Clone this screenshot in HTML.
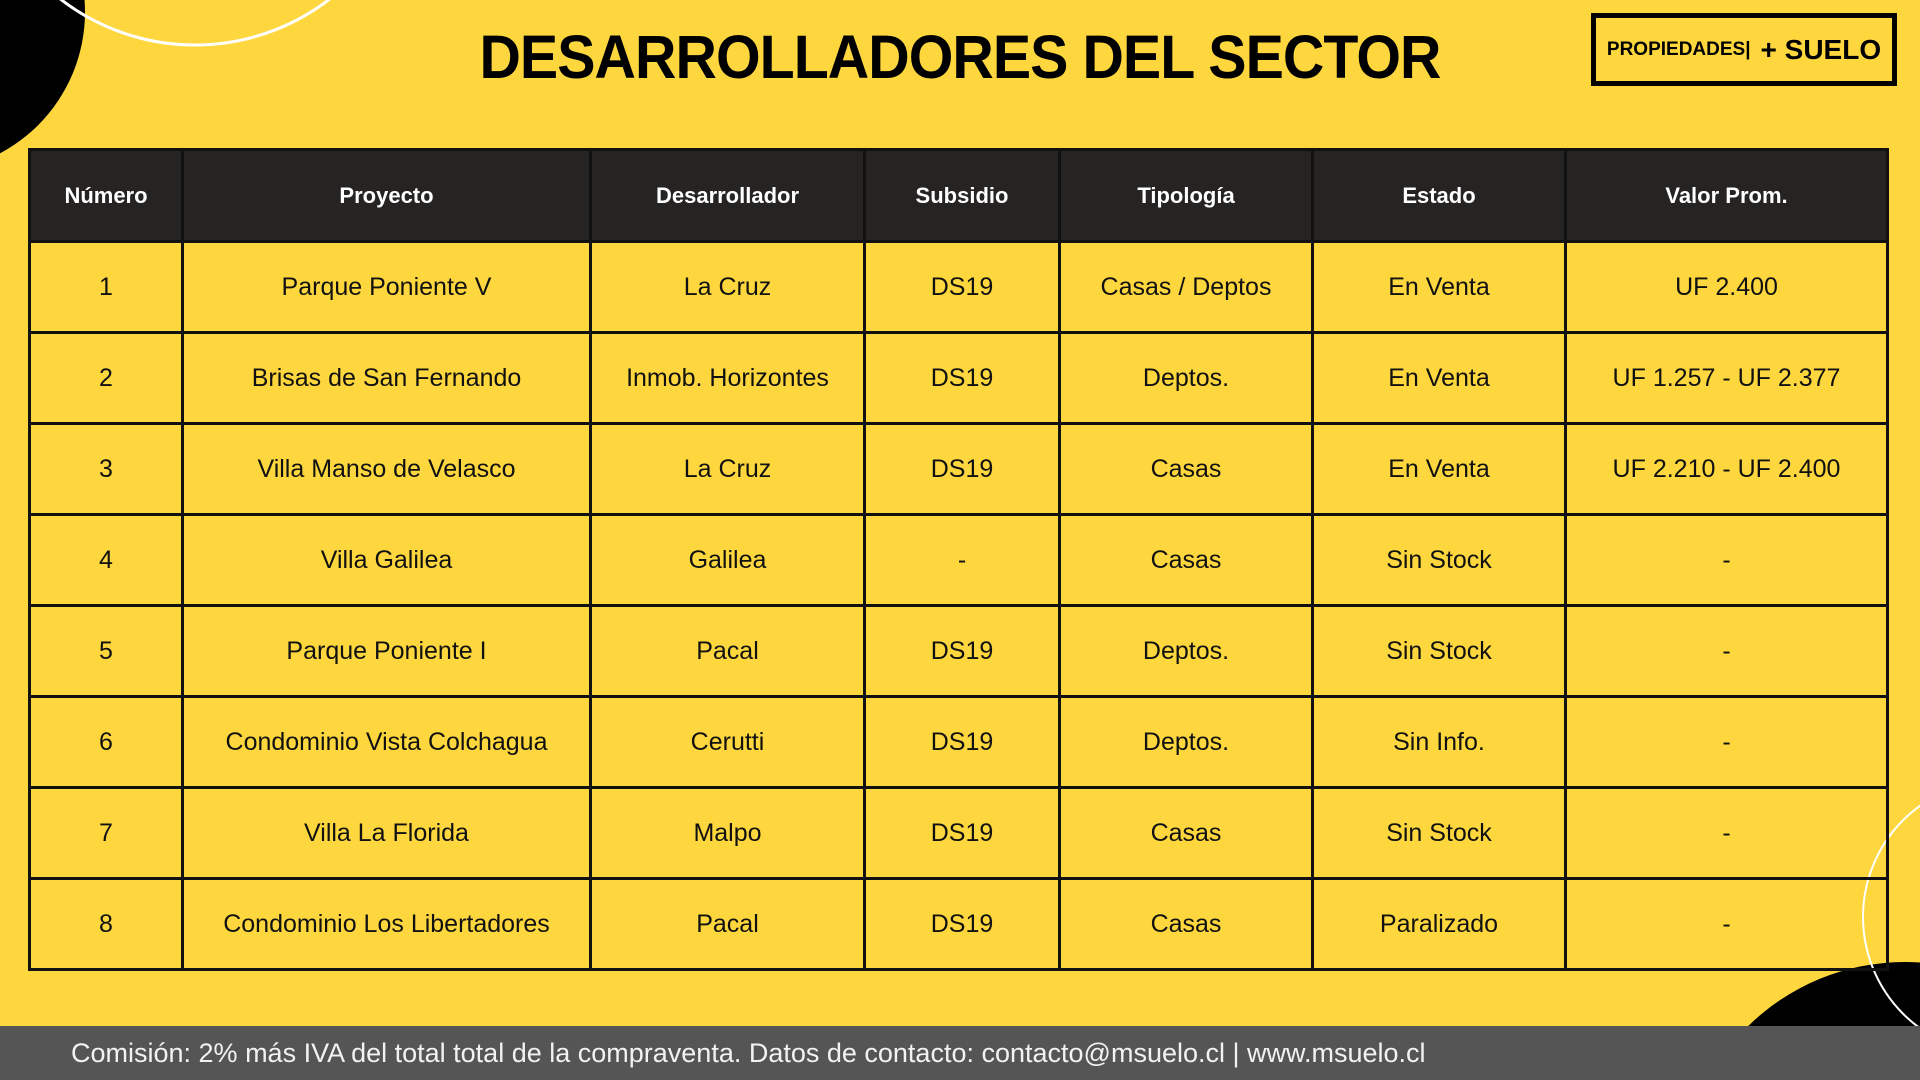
<!DOCTYPE html>
<html style="overflow:hidden"><head><meta charset="utf-8"><style>
*{margin:0;padding:0;box-sizing:border-box}
html,body{width:1920px;height:1080px;overflow:hidden}
#w{width:1920px;height:1080px;background:#fdd73d;position:relative;overflow:hidden;font-family:"Liberation Sans",sans-serif}
svg{position:absolute;left:0;top:0}
h1{position:absolute;left:0;width:1920px;top:22px;text-align:center;font-size:61px;font-weight:900;color:#000;letter-spacing:-1px;transform:scaleX(0.94)}
.logo{position:absolute;left:1591px;top:13px;width:306px;height:73px;border:5px solid #000;display:flex;align-items:center;justify-content:center;font-weight:bold}
table{position:absolute;left:28px;top:148px;border-collapse:collapse;table-layout:fixed;width:1858px}
td,th{border:3px solid #111;text-align:center;font-size:25px;color:#111;height:91px}
th{background:#262323;color:#fff;font-size:22px;height:92px}
.foot{position:absolute;left:0;top:1026px;width:1920px;height:54px;background:#555;color:#f2f2f2;font-size:27px;line-height:54px;padding-left:71px}
</style></head><body><div id="w">
<svg width="1920" height="1080">
<circle cx="-75" cy="12" r="160" fill="#000"/>
<circle cx="195" cy="-175" r="220" fill="none" stroke="#fff" stroke-width="3"/>
<circle cx="1905" cy="1186" r="224" fill="#000"/>
<circle cx="2000" cy="917" r="137" fill="none" stroke="#fff" stroke-width="2"/>
</svg>
<h1>DESARROLLADORES DEL SECTOR</h1>
<div class="logo"><span style="font-size:19px">PROPIEDADES|</span><span style="font-size:28px;margin-left:10px">+ SUELO</span></div>
<table>
<colgroup><col style="width:153px"><col style="width:408px"><col style="width:274px"><col style="width:195px"><col style="width:253px"><col style="width:253px"><col style="width:322px"></colgroup>
<tr><th>Número</th><th>Proyecto</th><th>Desarrollador</th><th>Subsidio</th><th>Tipología</th><th>Estado</th><th>Valor Prom.</th></tr>
<tr><td>1</td><td>Parque Poniente V</td><td>La Cruz</td><td>DS19</td><td>Casas / Deptos</td><td>En Venta</td><td>UF 2.400</td></tr>
<tr><td>2</td><td>Brisas de San Fernando</td><td>Inmob. Horizontes</td><td>DS19</td><td>Deptos.</td><td>En Venta</td><td>UF 1.257 - UF 2.377</td></tr>
<tr><td>3</td><td>Villa Manso de Velasco</td><td>La Cruz</td><td>DS19</td><td>Casas</td><td>En Venta</td><td>UF 2.210 - UF 2.400</td></tr>
<tr><td>4</td><td>Villa Galilea</td><td>Galilea</td><td>-</td><td>Casas</td><td>Sin Stock</td><td>-</td></tr>
<tr><td>5</td><td>Parque Poniente I</td><td>Pacal</td><td>DS19</td><td>Deptos.</td><td>Sin Stock</td><td>-</td></tr>
<tr><td>6</td><td>Condominio Vista Colchagua</td><td>Cerutti</td><td>DS19</td><td>Deptos.</td><td>Sin Info.</td><td>-</td></tr>
<tr><td>7</td><td>Villa La Florida</td><td>Malpo</td><td>DS19</td><td>Casas</td><td>Sin Stock</td><td>-</td></tr>
<tr><td>8</td><td>Condominio Los Libertadores</td><td>Pacal</td><td>DS19</td><td>Casas</td><td>Paralizado</td><td>-</td></tr>
</table>
<div class="foot">Comisión: 2% más IVA del total total de la compraventa. Datos de contacto: contacto@msuelo.cl | www.msuelo.cl</div>
</div></body></html>
